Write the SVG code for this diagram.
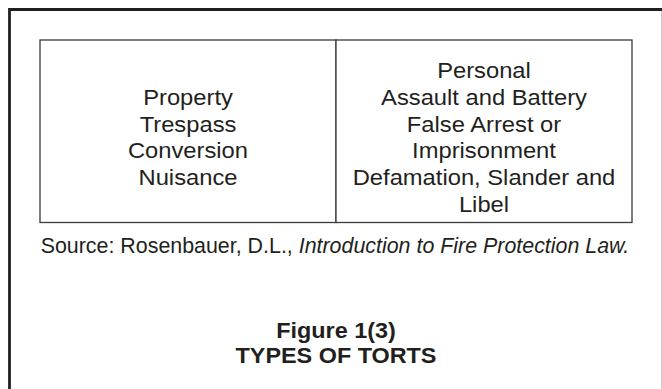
<svg xmlns="http://www.w3.org/2000/svg" width="662" height="389" viewBox="0 0 662 389">
  <style>
    .frame { fill: none; stroke: #231f20; stroke-width: 2.8; }
    .edge { stroke: #c8c8c8; stroke-width: 1; }
    .cell { fill: #ffffff; stroke: #3a3a3a; stroke-width: 1.3; }
    .body { font-family: "Liberation Sans", Arial, Helvetica, sans-serif; font-size: 22px; fill: #231f20; text-anchor: middle; }
    .src { font-family: "Liberation Sans", Arial, Helvetica, sans-serif; font-size: 21.4px; fill: #231f20; }
    .title { font-family: "Liberation Sans", Arial, Helvetica, sans-serif; font-size: 22.5px; font-weight: bold; fill: #231f20; text-anchor: middle; }
  </style>

  <rect width="662" height="389" fill="#ffffff"/>

  <!-- page frame, open to the right and bottom -->
  <path class="frame" d="M9.5 395 V9.5 H670"/>
  <line class="edge" x1="661.5" y1="11" x2="661.5" y2="389"/>

  <!-- left cell: property torts -->
  <g id="property">
    <rect class="cell" x="40" y="40" width="296" height="182.5"/>
    <g transform="translate(188,0) scale(1.08,1)">
      <text class="body" x="0" y="105">Property</text>
      <text class="body" x="0" y="131.7">Trespass</text>
      <text class="body" x="0" y="158.3">Conversion</text>
      <text class="body" x="0" y="185">Nuisance</text>
    </g>
  </g>

  <!-- right cell: personal torts -->
  <g id="personal">
    <rect class="cell" x="336" y="40" width="296" height="182.5"/>
    <g transform="translate(484,0) scale(1.08,1)">
      <text class="body" x="0" y="78.3">Personal</text>
      <text class="body" x="0" y="105">Assault and Battery</text>
      <text class="body" x="0" y="131.7">False Arrest or</text>
      <text class="body" x="0" y="158.3">Imprisonment</text>
      <text class="body" x="0" y="185">Defamation, Slander and</text>
      <text class="body" x="0" y="211.7">Libel</text>
    </g>
  </g>

  <!-- source line -->
  <g id="source">
    <text class="src" x="40.7" y="253.3">Source: Rosenbauer, D.L., <tspan font-style="italic">Introduction to Fire Protection Law.</tspan></text>
  </g>

  <!-- caption -->
  <g id="caption" transform="translate(336,0) scale(1.04,1)">
    <text class="title" x="0" y="338.5">Figure 1(3)</text>
    <text class="title" x="0" y="363">TYPES OF TORTS</text>
  </g>
</svg>
